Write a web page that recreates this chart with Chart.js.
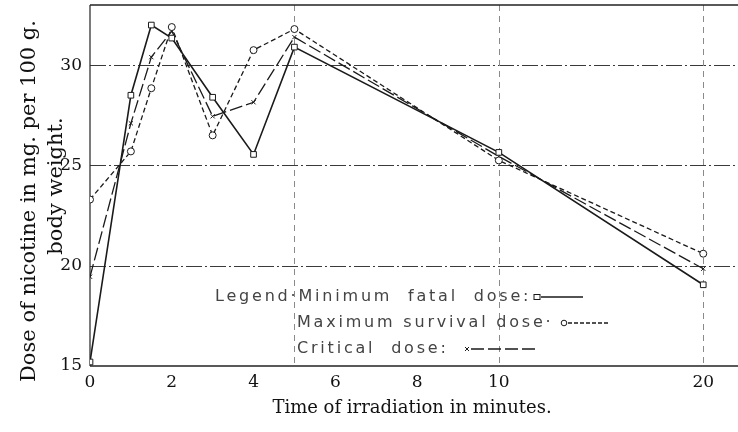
<!DOCTYPE html>
<html>
<head>
<meta charset="utf-8">
<script src="https://cdn.jsdelivr.net/npm/chart.js@4"></script>
<style>
  html, body { margin: 0; padding: 0; background: #fff; }
  #wrap { width: 738px; height: 432px; position: relative; }
</style>
</head>
<body>
<div id="wrap"><canvas id="c" width="738" height="432"></canvas></div>
<script>
// ---- Data ----
const times = [0, 1, 1.5, 2, 3, 4, 5, 10, 20];
const minimumFatal    = [15.2, 28.5, 32.0, 31.35, 28.4, 25.55, 30.9, 25.65, 19.05];
const maximumSurvival = [23.3, 25.7, 28.85, 31.9, 26.5, 30.75, 31.8, 25.25, 20.6];
const criticalDose    = [19.45, 27.1, 30.4, 31.7, 27.45, 28.15, 31.4, 25.45, 19.85];
const xTickLabels = [0, 2, 4, 6, 8, 10, 20];
const yTickLabels = [15, 20, 25, 30];
const xGridValues = [5, 10, 20];
const yGridValues = [20, 25, 30];
const legendRows = ['Legend\u00b7Minimum  fatal  dose:', 'Maximum survival dose\u00b7', 'Critical  dose:'];

// The original time axis is compressed beyond 10 minutes (10 -> 20 spans half the distance)
function tx(v) { return v <= 10 ? v : 10 + (v - 10) / 2; }
function pts(values) { return times.map((t, i) => ({ x: tx(t), y: values[i] })); }

const INK = '#1a1a1a';

const framePlugin = {
  id: 'frame',
  beforeDatasetsDraw(chart) {
    const { ctx, chartArea: a, scales: { x, y } } = chart;
    ctx.save();
    ctx.strokeStyle = '#3a3a3a';
    ctx.lineWidth = 1;
    ctx.setLineDash([16, 3, 2, 3]);
    yGridValues.forEach(v => {
      const py = Math.round(y.getPixelForValue(v)) + 0.5;
      ctx.beginPath(); ctx.moveTo(a.left, py); ctx.lineTo(a.right, py); ctx.stroke();
    });
    ctx.strokeStyle = '#8a8a8a';
    ctx.setLineDash([6, 5]);
    xGridValues.forEach(v => {
      const px = Math.round(x.getPixelForValue(tx(v))) + 0.5;
      ctx.beginPath(); ctx.moveTo(px, a.top); ctx.lineTo(px, a.bottom); ctx.stroke();
    });
    ctx.setLineDash([]);
    ctx.strokeStyle = '#222';
    ctx.lineWidth = 1.6;
    ctx.beginPath(); ctx.moveTo(a.left, a.top); ctx.lineTo(a.right, a.top); ctx.stroke();
    ctx.beginPath(); ctx.moveTo(a.left, a.bottom); ctx.lineTo(a.right, a.bottom); ctx.stroke();
    ctx.lineWidth = 1.2;
    ctx.beginPath(); ctx.moveTo(a.left, a.top); ctx.lineTo(a.left, a.bottom); ctx.stroke();
    ctx.restore();
  },
  afterDraw(chart) {
    const { ctx } = chart;
    ctx.save();
    ctx.fillStyle = '#111';
    ctx.textAlign = 'center';
    ctx.textBaseline = 'middle';
    ctx.font = '18px "DejaVu Serif"';
    ctx.fillText('Time of irradiation in minutes.', 412, 408);
    ctx.font = '21px "DejaVu Serif"';
    ctx.save();
    ctx.translate(30, 201);
    ctx.rotate(-Math.PI / 2);
    ctx.fillText('Dose of nicotine in mg. per 100 g.', 0, 0);
    ctx.restore();
    ctx.save();
    ctx.translate(57, 186);
    ctx.rotate(-Math.PI / 2);
    ctx.fillText('body weight.', 0, 0);
    ctx.restore();

    // legend
    ctx.font = '16px "DejaVu Sans"';
    ctx.fillStyle = '#444';
    ctx.textAlign = 'left';
    if ('letterSpacing' in ctx) ctx.letterSpacing = '2.8px';
    const rowX = [215, 297, 297];
    const rowY = [297, 323, 349];
    legendRows.forEach((t, r) => ctx.fillText(t, rowX[r], rowY[r]));
    if ('letterSpacing' in ctx) ctx.letterSpacing = '0px';

    const samples = [
      { y: rowY[0], mx: 537, lx1: 541, lx2: 583, dash: [], mark: 'rect' },
      { y: rowY[1], mx: 564, lx1: 568, lx2: 608, dash: [4, 2], mark: 'circle' },
      { y: rowY[2], mx: 467, lx1: 471, lx2: 538, dash: [13, 4], mark: 'cross' }
    ];
    ctx.strokeStyle = INK;
    samples.forEach(r => {
      ctx.lineWidth = 1.4;
      ctx.setLineDash(r.dash);
      ctx.beginPath(); ctx.moveTo(r.lx1, r.y); ctx.lineTo(r.lx2, r.y); ctx.stroke();
      ctx.setLineDash([]);
      ctx.lineWidth = 1;
      ctx.fillStyle = '#fff';
      if (r.mark === 'rect') {
        ctx.fillRect(r.mx - 3, r.y - 2.5, 6, 5); ctx.strokeRect(r.mx - 3, r.y - 2.5, 6, 5);
      } else if (r.mark === 'circle') {
        ctx.beginPath(); ctx.arc(r.mx, r.y, 2.8, 0, Math.PI * 2); ctx.fill(); ctx.stroke();
      } else {
        ctx.beginPath();
        ctx.moveTo(r.mx - 2, r.y - 2); ctx.lineTo(r.mx + 2, r.y + 2);
        ctx.moveTo(r.mx + 2, r.y - 2); ctx.lineTo(r.mx - 2, r.y + 2);
        ctx.stroke();
      }
    });
    ctx.restore();
  }
};

new Chart(document.getElementById('c'), {
  type: 'line',
  data: {
    datasets: [
      {
        label: 'Minimum fatal dose',
        data: pts(minimumFatal),
        borderColor: INK, borderWidth: 1.6,
        pointStyle: 'rect', pointRadius: 4, pointBackgroundColor: '#fff',
        pointBorderColor: INK, pointBorderWidth: 1, tension: 0
      },
      {
        label: 'Maximum survival dose',
        data: pts(maximumSurvival),
        borderColor: INK, borderWidth: 1.3, borderDash: [5, 3],
        pointStyle: 'circle', pointRadius: 3.5, pointBackgroundColor: '#fff',
        pointBorderColor: INK, pointBorderWidth: 1, tension: 0
      },
      {
        label: 'Critical dose',
        data: pts(criticalDose),
        borderColor: INK, borderWidth: 1.3, borderDash: [13, 4],
        pointStyle: 'crossRot', pointRadius: 3, pointBorderColor: INK,
        pointBorderWidth: 1, tension: 0
      }
    ]
  },
  options: {
    responsive: false,
    animation: false,
    layout: { autoPadding: false, padding: { top: 5, right: 0, left: 0, bottom: 0 } },
    plugins: { legend: { display: false }, tooltip: { enabled: false } },
    scales: {
      x: {
        type: 'linear', min: 0, max: 15.85,
        afterBuildTicks(s) { s.ticks = xTickLabels.map(v => ({ value: tx(v) })); },
        afterFit(s) { s.height = 66; s.paddingLeft = 0; s.paddingRight = 0; },
        grid: { display: false, drawTicks: false },
        border: { display: false },
        ticks: {
          padding: 6, color: '#111', font: { family: 'DejaVu Serif', size: 17 },
          autoSkip: false, maxRotation: 0,
          callback(v) { const i = xTickLabels.findIndex(t => tx(t) === v); return i >= 0 ? String(xTickLabels[i]) : ''; }
        }
      },
      y: {
        type: 'linear', min: 15, max: 33,
        afterBuildTicks(s) { s.ticks = yTickLabels.map(v => ({ value: v })); },
        afterFit(s) { s.width = 90; s.paddingTop = 0; s.paddingBottom = 0; },
        grid: { display: false, drawTicks: false },
        border: { display: false },
        ticks: { padding: 8, color: '#111', font: { family: 'DejaVu Serif', size: 17 } }
      }
    }
  },
  plugins: [framePlugin]
});
</script>
</body>
</html>
